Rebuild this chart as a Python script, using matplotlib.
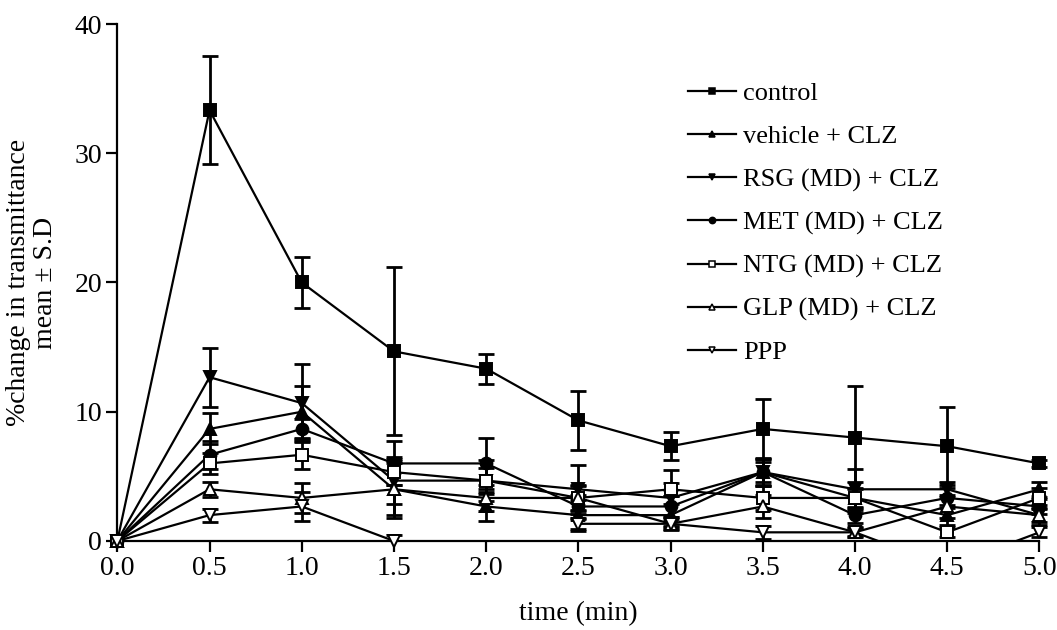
import numpy as np
import matplotlib
matplotlib.use("Agg")
import matplotlib.pyplot as plt
from matplotlib.patches import Rectangle

plt.rcParams['font.family'] = ['Liberation Serif', 'DejaVu Serif']

# time points (min)
time = [0.0, 0.5, 1.0, 1.5, 2.0, 2.5, 3.0, 3.5, 4.0, 4.5, 5.0]

# % change in transmittance, mean and S.D for each group
control      = [0, 33.33, 20.0, 14.67, 13.33, 9.33, 7.33, 8.67, 8.0, 7.33, 6.0]
control_sd   = [0, 4.2, 1.95, 6.5, 1.15, 2.3, 1.1, 2.3, 4.0, 3.0, 0.3]
vehicle      = [0, 8.67, 10.0, 4.0, 2.67, 2.0, 2.0, 5.33, 3.33, 2.0, 4.0]
vehicle_sd   = [0, 1.2, 2.0, 2.2, 1.1, 1.2, 0.9, 1.0, 1.2, 0.8, 0.6]
rsg          = [0, 12.67, 10.67, 4.67, 4.67, 4.0, 3.33, 5.33, 4.0, 4.0, 2.0]
rsg_sd       = [0, 2.27, 3.0, 1.8, 1.6, 1.9, 2.2, 0.8, 1.6, 0.6, 0.8]
met          = [0, 6.67, 8.67, 6.0, 6.0, 2.67, 2.67, 5.33, 2.0, 3.33, 2.67]
met_sd       = [0, 1.1, 0.8, 1.7, 2.0, 0.9, 0.8, 1.1, 0.6, 0.8, 0.6]
ntg          = [0, 6.0, 6.67, 5.33, 4.67, 3.33, 4.0, 3.33, 3.33, 0.67, 3.33]
ntg_sd       = [0, 0.8, 1.1, 1.0, 1.0, 1.0, 0.5, 0.9, 0.8, 0.4, 0.8]
glp          = [0, 4.0, 3.33, 4.0, 3.33, 3.33, 1.33, 2.67, 0.67, 2.67, 2.0]
glp_sd       = [0, 0.6, 1.13, 2.0, 1.0, 0.9, 0.5, 0.9, 0.4, 0.9, 0.5]
ppp          = [0, 2.0, 2.67, 0.0, np.nan, 1.33, 1.33, 0.67, 0.67, -2.0, 0.67]
ppp_sd       = [0, 0.5, 1.15, 0.5, np.nan, 0.4, 0.4, 0.5, 0.3, 0.6, 0.4]

labels = ["control", "vehicle + CLZ", "RSG (MD) + CLZ", "MET (MD) + CLZ",
          "NTG (MD) + CLZ", "GLP (MD) + CLZ", "PPP"]
means = [control, vehicle, rsg, met, ntg, glp, ppp]
sds = [control_sd, vehicle_sd, rsg_sd, met_sd, ntg_sd, glp_sd, ppp_sd]
markers = ['s', '^', 'v', 'o', 's', '^', 'v']
filled = [True, True, True, True, False, False, False]

fig = plt.figure(figsize=(10.57, 6.30), dpi=100)
ax = fig.add_axes([0.111, 0.1413, 0.8724, 0.8206])
ax.set_xlim(0, 5)
ax.set_ylim(0, 40)

# clip regions: lines and bars stop at the x axis, markers may overhang it a little
line_clip = Rectangle((-0.05, 0.0), 1.1, 1.1, transform=ax.transAxes,
                      fill=False, visible=False)
mark_clip = Rectangle((-0.05, -0.02), 1.1, 1.12, transform=ax.transAxes,
                      fill=False, visible=False)
ax.add_patch(line_clip)
ax.add_patch(mark_clip)

t = np.array(time)
handles = []
for y, sd, m, f, lab in zip(means, sds, markers, filled, labels):
    y = np.array(y, dtype=float)
    sd = np.array(sd, dtype=float)
    ok = ~np.isnan(y)
    eb = ax.errorbar(t[ok], y[ok], yerr=sd[ok], fmt='none', ecolor='black',
                     elinewidth=2.0, capsize=6, capthick=2.0, zorder=2)
    for art in list(eb.lines[1]) + list(eb.lines[2]):
        art.set_clip_path(line_clip)
    ln, = ax.plot(t, y, '-', color='black', lw=1.6, zorder=3)
    ln.set_clip_path(line_clip)
    mk, = ax.plot(t, y, ls='none', marker=m, ms=8 if m != 'o' else 8.5,
                  mfc='black' if f else 'white', mec='black', mew=1.4, zorder=4)
    mk.set_clip_path(mark_clip)
    h, = ax.plot([], [], '-', color='black', lw=1.6, marker=m, ms=4.5,
                 mfc='black' if f else 'white', mec='black', mew=1.1)
    handles.append(h)

for s in ['top', 'right']:
    ax.spines[s].set_visible(False)
for s in ['left', 'bottom']:
    ax.spines[s].set_linewidth(1.6)

ax.set_xticks(np.arange(0, 5.01, 0.5))
ax.set_xticklabels([f"{v:.1f}" for v in np.arange(0, 5.01, 0.5)])
ax.set_yticks([0, 10, 20, 30, 40])
ax.tick_params(axis='both', direction='out', length=8, width=1.6,
               labelsize=20, pad=3)

ax.set_xlabel("time (min)", fontsize=20, labelpad=14)
ax.set_ylabel("%change in transmittance\nmean \u00b1 S.D", fontsize=20,
              labelpad=12, linespacing=1.1)

ax.legend(handles, labels, loc='upper left',
          bbox_to_anchor=(688 / 1057, 1 - 82 / 630),
          bbox_transform=fig.transFigure,
          frameon=False, fontsize=19, handlelength=1.8, handletextpad=0.3,
          labelspacing=0.735, borderaxespad=0, borderpad=0)

fig.savefig("out.png", dpi=100)
